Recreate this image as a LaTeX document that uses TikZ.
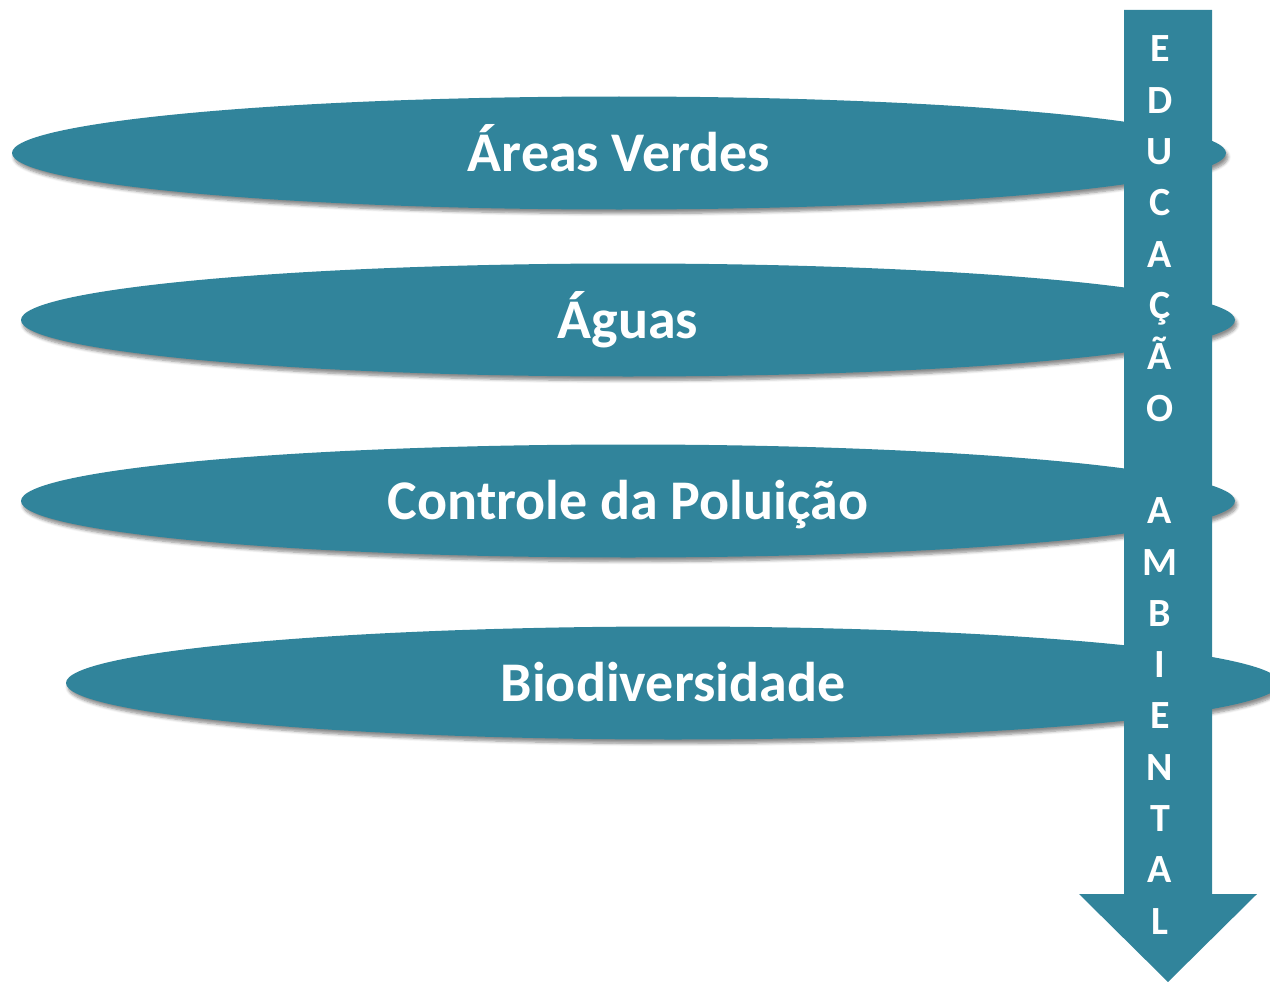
\documentclass[tikz,border=0pt]{standalone}
\usepackage{fontspec}
\setmainfont{Carlito}
\usetikzlibrary{shapes.geometric,shadows.blur}
\definecolor{teal1}{RGB}{49,132,155}
\tikzset{
  oval/.style={ellipse, fill=teal1, draw=none, minimum width=1214pt, minimum height=113pt,
    inner sep=0pt, text=white, font=\bfseries\fontsize{56}{64}\selectfont,
    text height=36pt, text depth=0pt,
    blur shadow={shadow xshift=2pt, shadow yshift=-4pt, shadow blur steps=6, shadow opacity=45, shadow blur radius=3pt}},
  letter/.style={text=white, font=\bfseries\fontsize{40}{46}\selectfont, anchor=base, inner sep=0pt},
  bigarrow/.style={fill=teal1, draw=none}
}
\begin{document}
\begin{tikzpicture}[x=1pt,y=-1pt]
\useasboundingbox (0,0) rectangle (1270,982);
\clip (0,0) rectangle (1270,982);
\node[oval] (e1) at (619,153) {Áreas Verdes};
\node[oval] (e2) at (628,320) {Águas};
\node[oval] (e3) at (628,501) {Controle da Poluição};
\node[oval] (e4) at (673,683) {Biodiversidade};
\path[bigarrow] (1124,10) -- (1212,10) -- (1212,894) -- (1257,894) -- (1168,982) -- (1079,894) -- (1124,894) -- cycle;
\foreach \l [count=\i] in {E,D,U,C,A,Ç,Ã,O,{},A,M,B,I,E,N,T,A,L}{
  \node[letter] (l\i) at (1160,{62+(\i-1)*51.3}) {\l};
}
\end{tikzpicture}
\end{document}
